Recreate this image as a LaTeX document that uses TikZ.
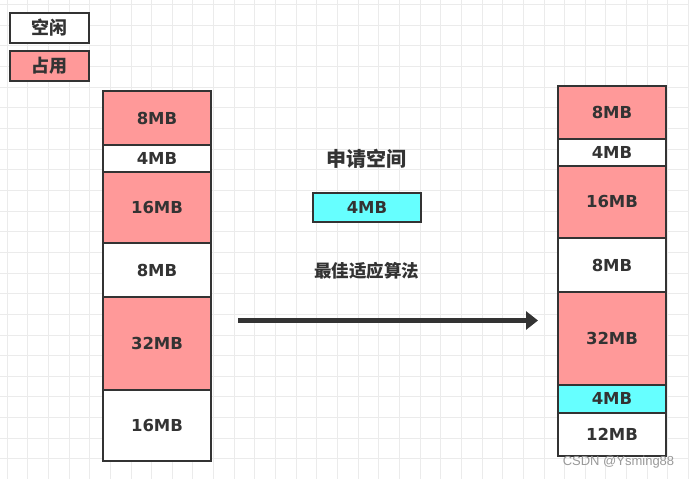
\documentclass[tikz,border=0pt]{standalone}
\usepackage{fontspec}
\setmainfont{DejaVu Sans}
\newfontfamily\cjk{Noto Sans CJK SC}
\newfontfamily\wmfont{Liberation Sans}
\usetikzlibrary{arrows.meta}
\definecolor{pinkc}{HTML}{FF9999}
\definecolor{cyanc}{HTML}{66FFFF}
\definecolor{inkc}{HTML}{333333}
\definecolor{gridc}{HTML}{EBEBEB}
\tikzset{
  blk/.style={draw=inkc, line width=2pt, minimum width=108pt, inner sep=0pt, outer sep=0pt,
    text=inkc, font=\fontsize{16.5}{18}\selectfont\bfseries},
  used/.style={blk, fill=pinkc},
  free/.style={blk, fill=white},
  req/.style={blk, fill=cyanc},
  legend/.style={draw=inkc, line width=2pt, minimum width=79pt, minimum height=30pt, inner sep=0pt,
    text=inkc, font=\cjk\fontsize{18}{20}\selectfont\bfseries},
  lbl/.style={text=inkc, inner sep=0pt},
  arr/.style={draw=inkc, line width=5pt, -{Triangle[length=12pt,width=18pt]}},
}
\begin{document}
\begin{tikzpicture}[x=1pt,y=-1pt]
\useasboundingbox (0,0) rectangle (689,479);
\fill[white] (0,0) rectangle (689,479);
% grid
\foreach \i in {0,...,33} {
  \draw[gridc, line width=0.8pt] ({7+\i*20.65},0) -- ({7+\i*20.65},479);
}
\foreach \j in {0,...,23} {
  \draw[gridc, line width=0.8pt] (0,{4.5+\j*20.65}) -- (689,{4.5+\j*20.65});
}
% legend
\node[legend, fill=white] (lfree) at (49.5,28) {空闲};
\node[legend, fill=pinkc] (lused) at (49.5,66) {占用};
% left column
\node[used, minimum height=54pt]  (L1) at (157,118)   {8MB};
\node[free, minimum height=27pt]  (L2) at (157,158.5) {4MB};
\node[used, minimum height=71pt]  (L3) at (157,207.5) {16MB};
\node[free, minimum height=54pt]  (L4) at (157,270)   {8MB};
\node[used, minimum height=93pt]  (L5) at (157,343.5) {32MB};
\node[free, minimum height=71pt]  (L6) at (157,425.5) {16MB};
% right column
\node[used, minimum height=52.5pt] (R1) at (612,112.25) {8MB};
\node[free, minimum height=27.5pt] (R2) at (612,152.25) {4MB};
\node[used, minimum height=72pt]   (R3) at (612,202)    {16MB};
\node[free, minimum height=54pt]   (R4) at (612,265)    {8MB};
\node[used, minimum height=93pt]   (R5) at (612,338.5)  {32MB};
\node[req,  minimum height=27.5pt] (R6) at (612,398.75) {4MB};
\node[free, minimum height=43pt]   (R7) at (612,434)    {12MB};
% middle
\node[lbl, font=\cjk\fontsize{20}{22}\selectfont\bfseries] (title) at (366.5,159) {申请空间};
\node[req, minimum height=29pt] (reqbox) at (367,207.5) {4MB};
\node[lbl, font=\cjk\fontsize{17.5}{19}\selectfont\bfseries] (algo) at (366.5,271) {最佳适应算法};
\coordinate (as) at (238,320.5);
\coordinate (ae) at (538,320.5);
\draw[arr] (as) -- (ae);
% watermark
\node[text=gray!80, inner sep=0pt, font=\wmfont\fontsize{13}{14}\selectfont] (wm) at (618.5,462) {CSDN @Ysming88};
\end{tikzpicture}
\end{document}
